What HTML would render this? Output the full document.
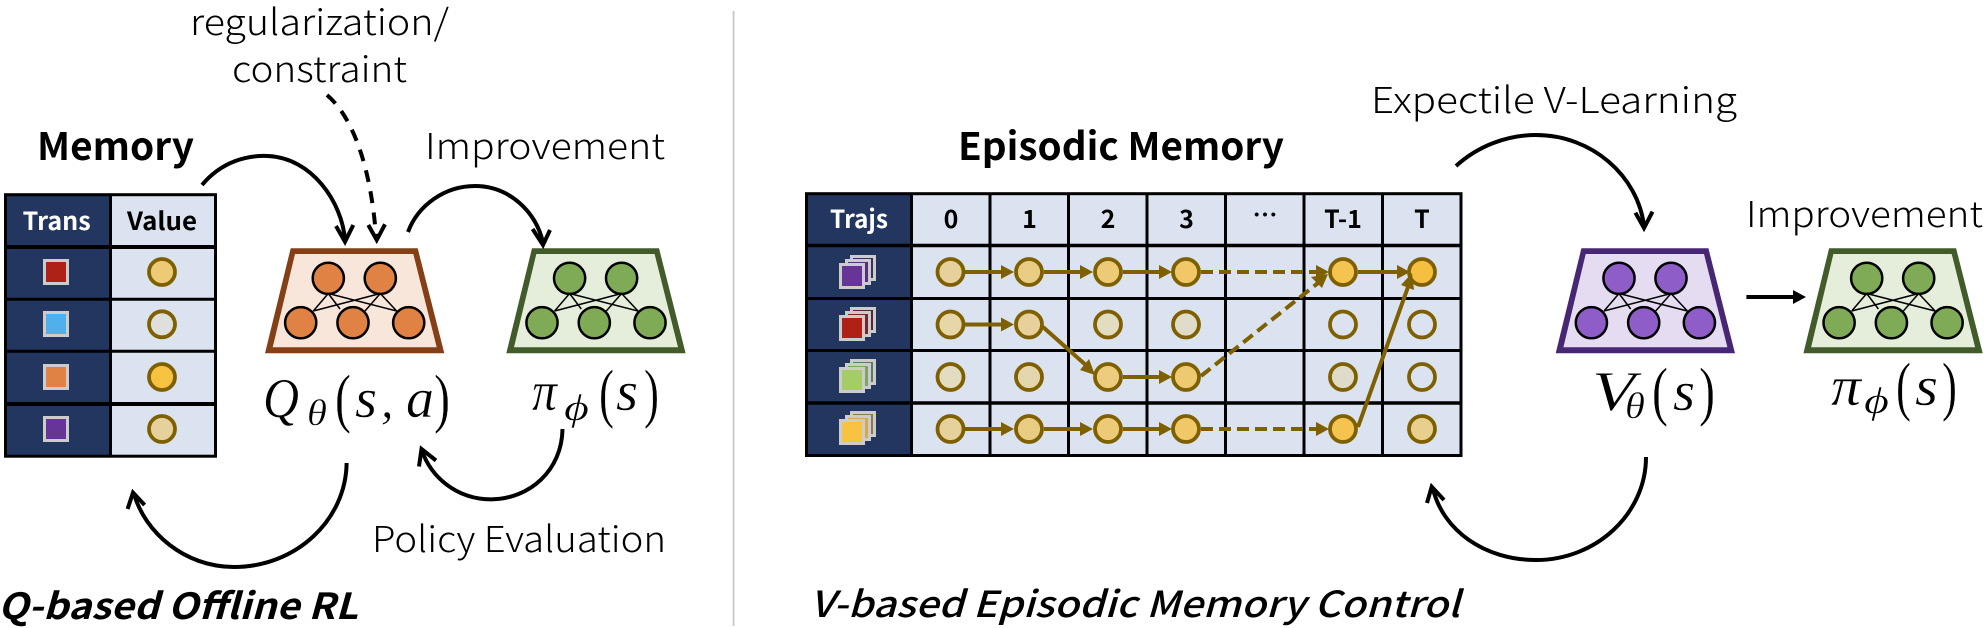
<!DOCTYPE html>
<html><head><meta charset="utf-8"><style>
html,body{margin:0;padding:0;background:#fff}
svg{display:block}
.t{font-family:"Noto Sans CJK SC","Liberation Sans",sans-serif;fill:#000}
.m{font-family:"Liberation Serif",serif;font-style:italic;fill:#000;stroke:#fff;stroke-width:.4}
.p{font-family:"Liberation Serif",serif;fill:#000;stroke:#fff;stroke-width:.4}
</style></head><body>
<svg width="1984" height="628" viewBox="0 0 1984 628" xmlns="http://www.w3.org/2000/svg">
<defs>
<g id="wires" stroke="#000" stroke-width="1.5" fill="none">
<path d="M328.3 293.5L313.3 311M328.3 293.5L340 309M328.3 293.5L396.7 311M380.3 293.5L313.3 311M380.3 293.5L365 311M380.3 293.5L396.7 311"/>
</g>
<polygon id="tro" points="290.7,248.3 417.7,248.3 444.3,353.3 265,353.3"/>
<polygon id="tri" points="295,254 413.3,254 436.7,347.3 272.7,347.3"/>
<g id="nodes" stroke="#000" stroke-width="2.5">
<circle cx="328.3" cy="278.3" r="15.6"/><circle cx="380.3" cy="278.3" r="15.6"/>
<circle cx="300.7" cy="322.7" r="15.6"/><circle cx="353" cy="322.7" r="15.6"/><circle cx="408.7" cy="322.7" r="15.6"/>
</g>
</defs>
<rect width="1984" height="628" fill="#fff"/>
<rect x="732.7" y="11" width="1.8" height="615" fill="#c9c9c9"/>

<!-- Q net -->
<use href="#tro" fill="#843f17"/><use href="#tri" fill="#f7e6d9"/><use href="#wires"/><use href="#nodes" fill="#e08243"/>
<!-- pi net left -->
<g transform="translate(241.3,0)"><use href="#tro" fill="#425b2b"/><use href="#tri" fill="#e5eedb"/><use href="#wires"/><use href="#nodes" fill="#80ab56"/></g>
<!-- V net -->
<g transform="translate(1290.7,0)"><use href="#tro" fill="#472673"/><use href="#tri" fill="#e5dcf2"/><use href="#wires"/><use href="#nodes" fill="#8f5dc7"/></g>
<!-- pi net right -->
<g transform="translate(1538.4,0)"><use href="#tro" fill="#425b2b"/><use href="#tri" fill="#e5eedb"/><use href="#wires"/><use href="#nodes" fill="#80ab56"/></g>

<!-- Memory table -->
<rect x="5" y="194" width="105" height="262" fill="#22365f"/>
<rect x="110" y="194" width="105" height="262" fill="#dbe3f0"/>
<g stroke="#000" stroke-width="3" fill="none">
<rect x="5.5" y="194.7" width="210" height="261.5"/>
<path d="M110.5 194V456M5 299.3H216M5 351.3H216"/>
<path d="M5 247H216M5 404H216" stroke-width="4"/>
</g>
<g fill="none" stroke="#cccccc" stroke-width="3">
<rect x="44.5" y="260.5" width="23" height="23" fill="#ad2116"/>
<rect x="44.5" y="312.5" width="23" height="23" fill="#4fb0ec"/>
<rect x="44.5" y="365.5" width="23" height="23" fill="#e08243"/>
<rect x="44.5" y="417.5" width="23" height="23" fill="#673497"/>
</g>
<g stroke="#7f6000" stroke-width="3.8">
<circle cx="162" cy="272" r="13" fill="#edcb76"/>
<circle cx="162" cy="324.3" r="13" fill="#dfe0dd"/>
<circle cx="162" cy="377" r="13" fill="#f7c142"/>
<circle cx="162" cy="429" r="13" fill="#e6d09c"/>
</g>
<text class="t" x="22.7" y="230" font-size="25" font-weight="700" style="fill:#fff" textLength="68" lengthAdjust="spacingAndGlyphs">Trans</text>
<text class="t" x="127" y="230" font-size="25" font-weight="700" textLength="70" lengthAdjust="spacingAndGlyphs">Value</text>

<!-- Episodic table -->
<rect x="806" y="194" width="106" height="262" fill="#22365f"/>
<rect x="912" y="194" width="550" height="262" fill="#dbe3f0"/>
<g stroke="#000" stroke-width="3" fill="none">
<rect x="806.5" y="193.7" width="654.5" height="261.8"/>
<path d="M911.5 194V456M990 194V456M1068.5 194V456M1147 194V456M1225.5 194V456M1304 194V456M1382.5 194V456M806 298.5H1461M806 350.5H1461"/>
<path d="M806 245.5H1461M806 403H1461" stroke-width="3.6"/>
</g>
<!-- traj icons -->
<g>
<rect x="851.5" y="256.5" width="23" height="23" fill="#3d2e66" stroke="#ccc" stroke-width="3"/>
<rect x="846.5" y="260.5" width="23" height="23" fill="#55307f" stroke="#ccc" stroke-width="3"/>
<rect x="840.5" y="264.5" width="23" height="23" fill="#673497" stroke="#ccc" stroke-width="3"/>
</g>
<g>
<rect x="851.5" y="308.5" width="23" height="23" fill="#53283f" stroke="#ccc" stroke-width="3"/>
<rect x="846.5" y="312.5" width="23" height="23" fill="#7a2430" stroke="#ccc" stroke-width="3"/>
<rect x="840.5" y="316.5" width="23" height="23" fill="#ad2116" stroke="#ccc" stroke-width="3"/>
</g>
<g>
<rect x="851.5" y="360.5" width="23" height="23" fill="#5d7a62" stroke="#ccc" stroke-width="3"/>
<rect x="846.5" y="364.5" width="23" height="23" fill="#7ea268" stroke="#ccc" stroke-width="3"/>
<rect x="840.5" y="368.5" width="23" height="23" fill="#a4cd66" stroke="#ccc" stroke-width="3"/>
</g>
<g>
<rect x="851.5" y="412.5" width="23" height="23" fill="#8a7c50" stroke="#ccc" stroke-width="3"/>
<rect x="846.5" y="416.5" width="23" height="23" fill="#d6a848" stroke="#ccc" stroke-width="3"/>
<rect x="840.5" y="420.5" width="23" height="23" fill="#f7c142" stroke="#ccc" stroke-width="3"/>
</g>
<!-- circles -->
<g stroke="#7f6000" stroke-width="3.8">
<circle cx="950.5" cy="272" r="13" fill="#e6d19d"/><circle cx="1029" cy="272" r="13" fill="#e8cc84"/><circle cx="1108" cy="272" r="13" fill="#edca78"/><circle cx="1186" cy="272" r="13" fill="#f0c868"/><circle cx="1343" cy="272" r="13" fill="#f5c34f"/><circle cx="1422" cy="272" r="13" fill="#f7bf3f"/>
<circle cx="950.5" cy="324.5" r="13" fill="#e6d6a8"/><circle cx="1029" cy="324.5" r="13" fill="#e7d09b"/><circle cx="1108" cy="324.5" r="13" fill="#e2dcc0"/><circle cx="1186" cy="324.5" r="13" fill="#dfdcca"/><circle cx="1343" cy="324.5" r="13" fill="#dbe3f0"/><circle cx="1422" cy="324.5" r="13" fill="#dbe3f0"/>
<circle cx="950.5" cy="377" r="13" fill="#e2dcc0"/><circle cx="1029" cy="377" r="13" fill="#e4d6ac"/><circle cx="1108" cy="377" r="13" fill="#eccb7c"/><circle cx="1186" cy="377" r="13" fill="#edc970"/><circle cx="1343" cy="377" r="13" fill="#dedcc8"/><circle cx="1422" cy="377" r="13" fill="#dbe3f0"/>
<circle cx="950.5" cy="429" r="13" fill="#e6d19d"/><circle cx="1029" cy="429" r="13" fill="#e8cc84"/><circle cx="1108" cy="429" r="13" fill="#edca78"/><circle cx="1186" cy="429" r="13" fill="#f0c868"/><circle cx="1343" cy="429" r="13" fill="#f5c34f"/><circle cx="1422" cy="429" r="13" fill="#e9cf8e"/>
</g>
<!-- table arrows -->
<g stroke="#7f6000" stroke-width="4" fill="none">
<path d="M965 272H1004M1044 272H1083M1123 272H1161M1358 272H1398"/>
<path d="M965 324.5H1004M1123 377H1161M965 429H1004M1044 429H1083M1123 429H1161"/>
<path d="M1043 327L1088 367"/>
<path d="M1358 427L1408 287"/>
<path d="M1201 272H1318M1201 429H1318M1201 376L1318 283" stroke-dasharray="12 6"/>
</g>
<g fill="#7f6000">
<path d="M1014 272l-13 -7v14zM1093 272l-13 -7v14zM1172 272l-13 -7v14zM1329 272l-13 -7v14zM1410 272l-13 -7v14z"/>
<path d="M1014 324.5l-13 -7v14zM1172 377l-13 -7v14z"/>
<path d="M1014 429l-13 -7v14zM1093 429l-13 -7v14zM1172 429l-13 -7v14zM1329 429l-13 -7v14z"/>
<path d="M1095 375L1080 370L1089 359z"/>
<path d="M1328 274L1322 288L1311 277z"/>
<path d="M1412 273L1414 290L1401 285z"/>
</g>
<text class="t" x="830" y="228" font-size="25" font-weight="700" style="fill:#fff" textLength="58" lengthAdjust="spacingAndGlyphs">Trajs</text>
<g font-size="25" font-weight="700" text-anchor="middle">
<text class="t" x="951" y="228">0</text><text class="t" x="1029.5" y="228">1</text><text class="t" x="1108" y="228">2</text><text class="t" x="1186.5" y="228">3</text><text class="t" x="1265" y="224">…</text><text class="t" x="1343" y="228">T-1</text><text class="t" x="1422" y="228">T</text>
</g>

<!-- curved arrows -->
<g fill="none" stroke="#000" stroke-width="4">
<path d="M202 185C222 161 248 155 268 156C312 158 342 202 345 240"/>
<path d="M336 226L345 241.7L353.3 225"/>
<path d="M327 95C354 118 371 170 376 236" stroke-dasharray="12 9.5"/>
<path d="M368.3 225L376.7 240L385 224.3"/>
<path d="M408 232C418 205 445 186 475 186C510 186 537 213 543 243"/>
<path d="M532.6 229L543 245L550 230"/>
<path d="M562.5 429C562 470 530 499 491 499.4C455 499 431 476 422 451"/>
<path d="M419 466.5L421.5 449L436 460.5"/>
<path d="M346.6 463C346 520 296 567 234 567C184 567 145 532 134 494"/>
<path d="M127.6 509L133 492.6L144.6 505"/>
<path d="M1456 166C1478 146 1507 135 1536 135C1592 135 1638 176 1644 226"/>
<path d="M1635.4 212.7L1644 228L1652.5 211.7"/>
<path d="M1646 457C1646 514 1596 560 1536 560C1484 560 1443 530 1433 489"/>
<path d="M1427 503L1431.7 486.7L1444 500"/>
<path d="M1746.4 297H1795"/>
</g>
<path d="M1806 297l-13 -7v14z" fill="#000"/>

<!-- labels -->
<text class="t" x="190" y="35" font-size="36" font-weight="300" textLength="259" lengthAdjust="spacingAndGlyphs">regularization/</text>
<text class="t" x="232" y="82" font-size="36" font-weight="300" textLength="175" lengthAdjust="spacingAndGlyphs">constraint</text>
<text class="t" x="37" y="160" font-size="38" font-weight="700" textLength="157" lengthAdjust="spacingAndGlyphs">Memory</text>
<text class="t" x="425" y="159" font-size="36" font-weight="300" textLength="240" lengthAdjust="spacingAndGlyphs">Improvement</text>
<text class="t" x="372" y="552" font-size="36" font-weight="300" textLength="294" lengthAdjust="spacingAndGlyphs">Policy Evaluation</text>
<text class="t" x="-2" y="619" font-size="36" font-weight="700" font-style="italic" textLength="360" lengthAdjust="spacingAndGlyphs">Q-based Offline RL</text>
<text class="t" x="958" y="160" font-size="38" font-weight="700" textLength="326" lengthAdjust="spacingAndGlyphs">Episodic Memory</text>
<text class="t" x="810" y="617" font-size="36" font-weight="500" font-style="italic" textLength="650" lengthAdjust="spacingAndGlyphs">V-based Episodic Memory Control</text>
<text class="t" x="1371" y="113" font-size="36" font-weight="300" textLength="366" lengthAdjust="spacingAndGlyphs">Expectile V-Learning</text>
<text class="t" x="1746" y="227" font-size="36" font-weight="300" textLength="237" lengthAdjust="spacingAndGlyphs">Improvement</text>

<!-- math: Q -->
<text class="m" x="263" y="417" font-size="56" textLength="36" lengthAdjust="spacingAndGlyphs">Q</text>
<text class="m" x="307" y="425" font-size="37" textLength="20" lengthAdjust="spacingAndGlyphs">θ</text>
<text class="p" x="335" y="420" font-size="66" textLength="16" lengthAdjust="spacingAndGlyphs">(</text>
<text class="m" x="355" y="417" font-size="56" textLength="22" lengthAdjust="spacingAndGlyphs">s</text>
<text class="m" x="381" y="417" font-size="50">,</text>
<text class="m" x="406" y="417" font-size="56" textLength="28" lengthAdjust="spacingAndGlyphs">a</text>
<text class="p" x="434" y="420" font-size="66" textLength="16" lengthAdjust="spacingAndGlyphs">)</text>
<!-- math: pi left -->
<text class="m" x="532" y="410" font-size="56" textLength="25" lengthAdjust="spacingAndGlyphs">π</text>
<text class="m" x="564" y="420" font-size="37" textLength="25" lengthAdjust="spacingAndGlyphs">ϕ</text>
<text class="p" x="599" y="415" font-size="66" textLength="15" lengthAdjust="spacingAndGlyphs">(</text>
<text class="m" x="616" y="410" font-size="56" textLength="22" lengthAdjust="spacingAndGlyphs">s</text>
<text class="p" x="644" y="415" font-size="66" textLength="15" lengthAdjust="spacingAndGlyphs">)</text>
<!-- math: V -->
<text class="m" x="1592" y="410" font-size="56" textLength="43" lengthAdjust="spacingAndGlyphs">V</text>
<text class="m" x="1625" y="418" font-size="37" textLength="20" lengthAdjust="spacingAndGlyphs">θ</text>
<text class="p" x="1652" y="413" font-size="66" textLength="16" lengthAdjust="spacingAndGlyphs">(</text>
<text class="m" x="1673" y="410" font-size="56" textLength="22" lengthAdjust="spacingAndGlyphs">s</text>
<text class="p" x="1699" y="413" font-size="66" textLength="16" lengthAdjust="spacingAndGlyphs">)</text>
<!-- math: pi right -->
<text class="m" x="1831" y="405" font-size="56" textLength="30" lengthAdjust="spacingAndGlyphs">π</text>
<text class="m" x="1864" y="413" font-size="37" textLength="25" lengthAdjust="spacingAndGlyphs">ϕ</text>
<text class="p" x="1896" y="408" font-size="66" textLength="15" lengthAdjust="spacingAndGlyphs">(</text>
<text class="m" x="1915" y="405" font-size="56" textLength="23" lengthAdjust="spacingAndGlyphs">s</text>
<text class="p" x="1942" y="408" font-size="66" textLength="15" lengthAdjust="spacingAndGlyphs">)</text>
</svg>
</body></html>
